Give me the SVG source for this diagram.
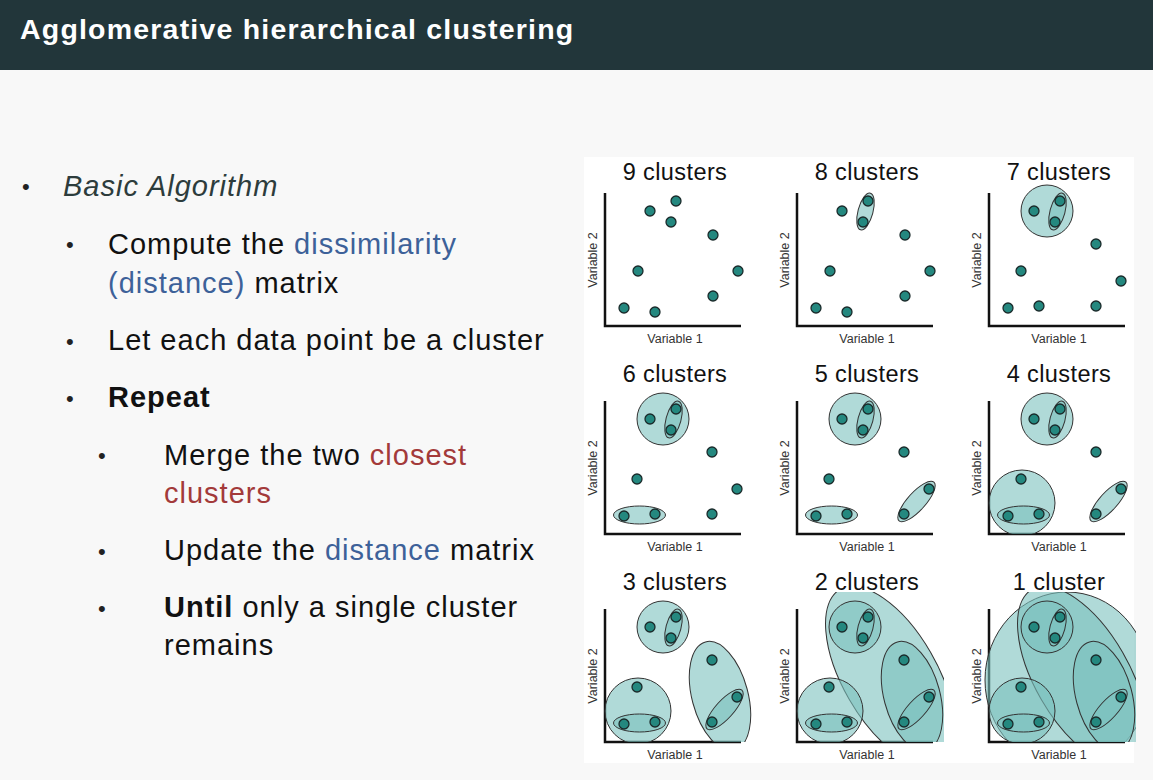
<svg xmlns="http://www.w3.org/2000/svg" xmlns:xlink="http://www.w3.org/1999/xlink" width="1153" height="780" viewBox="0 0 1153 780">
<style>
text{font-family:"Liberation Sans",Arial,sans-serif}
.b{font-size:29px;letter-spacing:1px;fill:#111}
.bu{font-size:22px;fill:#222}
.bl{fill:#3d6199}.rd{fill:#a33a3a}
.t{font-size:23.5px;letter-spacing:.4px;fill:#111;text-anchor:middle}
.ax{font-size:12.5px;fill:#333;text-anchor:middle}
.axis{fill:none;stroke:#111;stroke-width:2.5}
.c{fill:#7cc2be;fill-opacity:.6;stroke:#333;stroke-width:1}
.p{fill:#24887f;stroke:#1a2a2a;stroke-width:1.3}
</style>
<defs>
<clipPath id="cp" clipPathUnits="userSpaceOnUse"><rect x="-20" y="-150" width="167" height="150"/></clipPath>
<g id="axes"><path class="axis" d="M0,-133 V0 H136"/><text class="ax" x="70" y="17">Variable 1</text><text class="ax" transform="translate(-8,-66) rotate(-90)">Variable 2</text></g>
<g id="ptsA"><circle class="p" cx="19" cy="-18" r="5"/><circle class="p" cx="50" cy="-14" r="5"/><circle class="p" cx="33" cy="-55" r="5"/><circle class="p" cx="45" cy="-115" r="5"/><circle class="p" cx="71" cy="-125" r="5"/><circle class="p" cx="66" cy="-104" r="5"/><circle class="p" cx="108" cy="-91" r="5"/><circle class="p" cx="133" cy="-55" r="5"/><circle class="p" cx="108" cy="-30" r="5"/></g>
<g id="ptsB"><circle class="p" cx="19" cy="-18" r="5"/><circle class="p" cx="50" cy="-20" r="5"/><circle class="p" cx="32" cy="-55" r="5"/><circle class="p" cx="45" cy="-115" r="5"/><circle class="p" cx="71" cy="-125" r="5"/><circle class="p" cx="66" cy="-104" r="5"/><circle class="p" cx="107" cy="-82" r="5"/><circle class="p" cx="132" cy="-45" r="5"/><circle class="p" cx="107" cy="-20" r="5"/></g>
<ellipse id="cEF" class="c" cx="68.5" cy="-114.5" rx="7.5" ry="19" transform="rotate(15 68.5 -114.5)"/>
<circle id="cDEF" class="c" cx="58" cy="-115" r="26"/>
<ellipse id="cAB" class="c" cx="34.5" cy="-19" rx="26" ry="9"/>
<ellipse id="cHI" class="c" cx="119.5" cy="-32.5" rx="26" ry="9" transform="rotate(-48 119.5 -32.5)"/>
<circle id="cABC" class="c" cx="33" cy="-31" r="33"/>
<ellipse id="cGHI" class="c" cx="115" cy="-46" rx="28" ry="56" transform="rotate(-15 115 -46)"/>
<ellipse id="c6" class="c" cx="93" cy="-66" rx="47" ry="100" transform="rotate(-30 93 -66)"/>
<ellipse id="c9" class="c" cx="78" cy="-62" rx="82" ry="88"/>
</defs>
<rect width="1153" height="780" fill="#f8f8f8"/>
<rect width="1153" height="70" fill="#22363a"/>
<text x="20" y="39" font-size="28.5" letter-spacing="1.2" font-weight="bold" fill="#fff">Agglomerative hierarchical clustering</text>
<g id="text">
<text class="bu" x="22" y="194">•</text><text class="b" x="63" y="196" font-style="italic" style="fill:#2d3c3c">Basic Algorithm</text>
<text class="bu" x="66" y="252">•</text><text class="b" x="108" y="254">Compute the <tspan class="bl">dissimilarity</tspan></text>
<text class="b bl" x="108" y="293">(distance) <tspan style="fill:#111">matrix</tspan></text>
<text class="bu" x="66" y="349">•</text><text class="b" x="108" y="350">Let each data point be a cluster</text>
<text class="bu" x="66" y="406">•</text><text class="b" x="108" y="407" font-weight="bold">Repeat</text>
<text class="bu" x="98" y="463">•</text><text class="b" x="164" y="465">Merge the two <tspan class="rd">closest</tspan></text>
<text class="b rd" x="164" y="503">clusters</text>
<text class="bu" x="98" y="559">•</text><text class="b" x="164" y="560">Update the <tspan class="bl">distance</tspan> matrix</text>
<text class="bu" x="98" y="616">•</text><text class="b" x="164" y="617"><tspan font-weight="bold">Until</tspan> only a single cluster</text>
<text class="b" x="164" y="655">remains</text>
</g>
<rect x="584" y="157" width="550" height="606" fill="#fff"/>
<g id="panel1" transform="translate(605,326)"><text class="t" x="70" y="-146">9 clusters</text><use href="#axes"/><use href="#ptsA"/></g>
<g id="panel2" transform="translate(797,326)"><text class="t" x="70" y="-146">8 clusters</text><use href="#axes"/><g clip-path="url(#cp)"><use href="#cEF"/></g><use href="#ptsA"/></g>
<g id="panel3" transform="translate(989,326)"><text class="t" x="70" y="-146">7 clusters</text><use href="#axes"/><g clip-path="url(#cp)"><use href="#cDEF"/><use href="#cEF"/></g><use href="#ptsB"/></g>
<g id="panel4" transform="translate(605,534)"><text class="t" x="70" y="-152">6 clusters</text><use href="#axes"/><g clip-path="url(#cp)"><use href="#cDEF"/><use href="#cEF"/><use href="#cAB"/></g><use href="#ptsB"/></g>
<g id="panel5" transform="translate(797,534)"><text class="t" x="70" y="-152">5 clusters</text><use href="#axes"/><g clip-path="url(#cp)"><use href="#cDEF"/><use href="#cEF"/><use href="#cAB"/><use href="#cHI"/></g><use href="#ptsB"/></g>
<g id="panel6" transform="translate(989,534)"><text class="t" x="70" y="-152">4 clusters</text><use href="#axes"/><g clip-path="url(#cp)"><use href="#cDEF"/><use href="#cEF"/><use href="#cABC"/><use href="#cAB"/><use href="#cHI"/></g><use href="#ptsB"/></g>
<g id="panel7" transform="translate(605,742)"><text class="t" x="70" y="-152">3 clusters</text><use href="#axes"/><g clip-path="url(#cp)"><use href="#cDEF"/><use href="#cEF"/><use href="#cABC"/><use href="#cAB"/><use href="#cGHI"/><use href="#cHI"/></g><use href="#ptsB"/></g>
<g id="panel8" transform="translate(797,742)"><text class="t" x="70" y="-152">2 clusters</text><use href="#axes"/><g clip-path="url(#cp)"><use href="#c6"/><use href="#cDEF"/><use href="#cEF"/><use href="#cABC"/><use href="#cAB"/><use href="#cGHI"/><use href="#cHI"/></g><use href="#ptsB"/></g>
<g id="panel9" transform="translate(989,742)"><text class="t" x="70" y="-152">1 cluster</text><use href="#axes"/><g clip-path="url(#cp)"><use href="#c9"/><use href="#c6"/><use href="#cDEF"/><use href="#cEF"/><use href="#cABC"/><use href="#cAB"/><use href="#cGHI"/><use href="#cHI"/></g><use href="#ptsB"/></g>
</svg>
